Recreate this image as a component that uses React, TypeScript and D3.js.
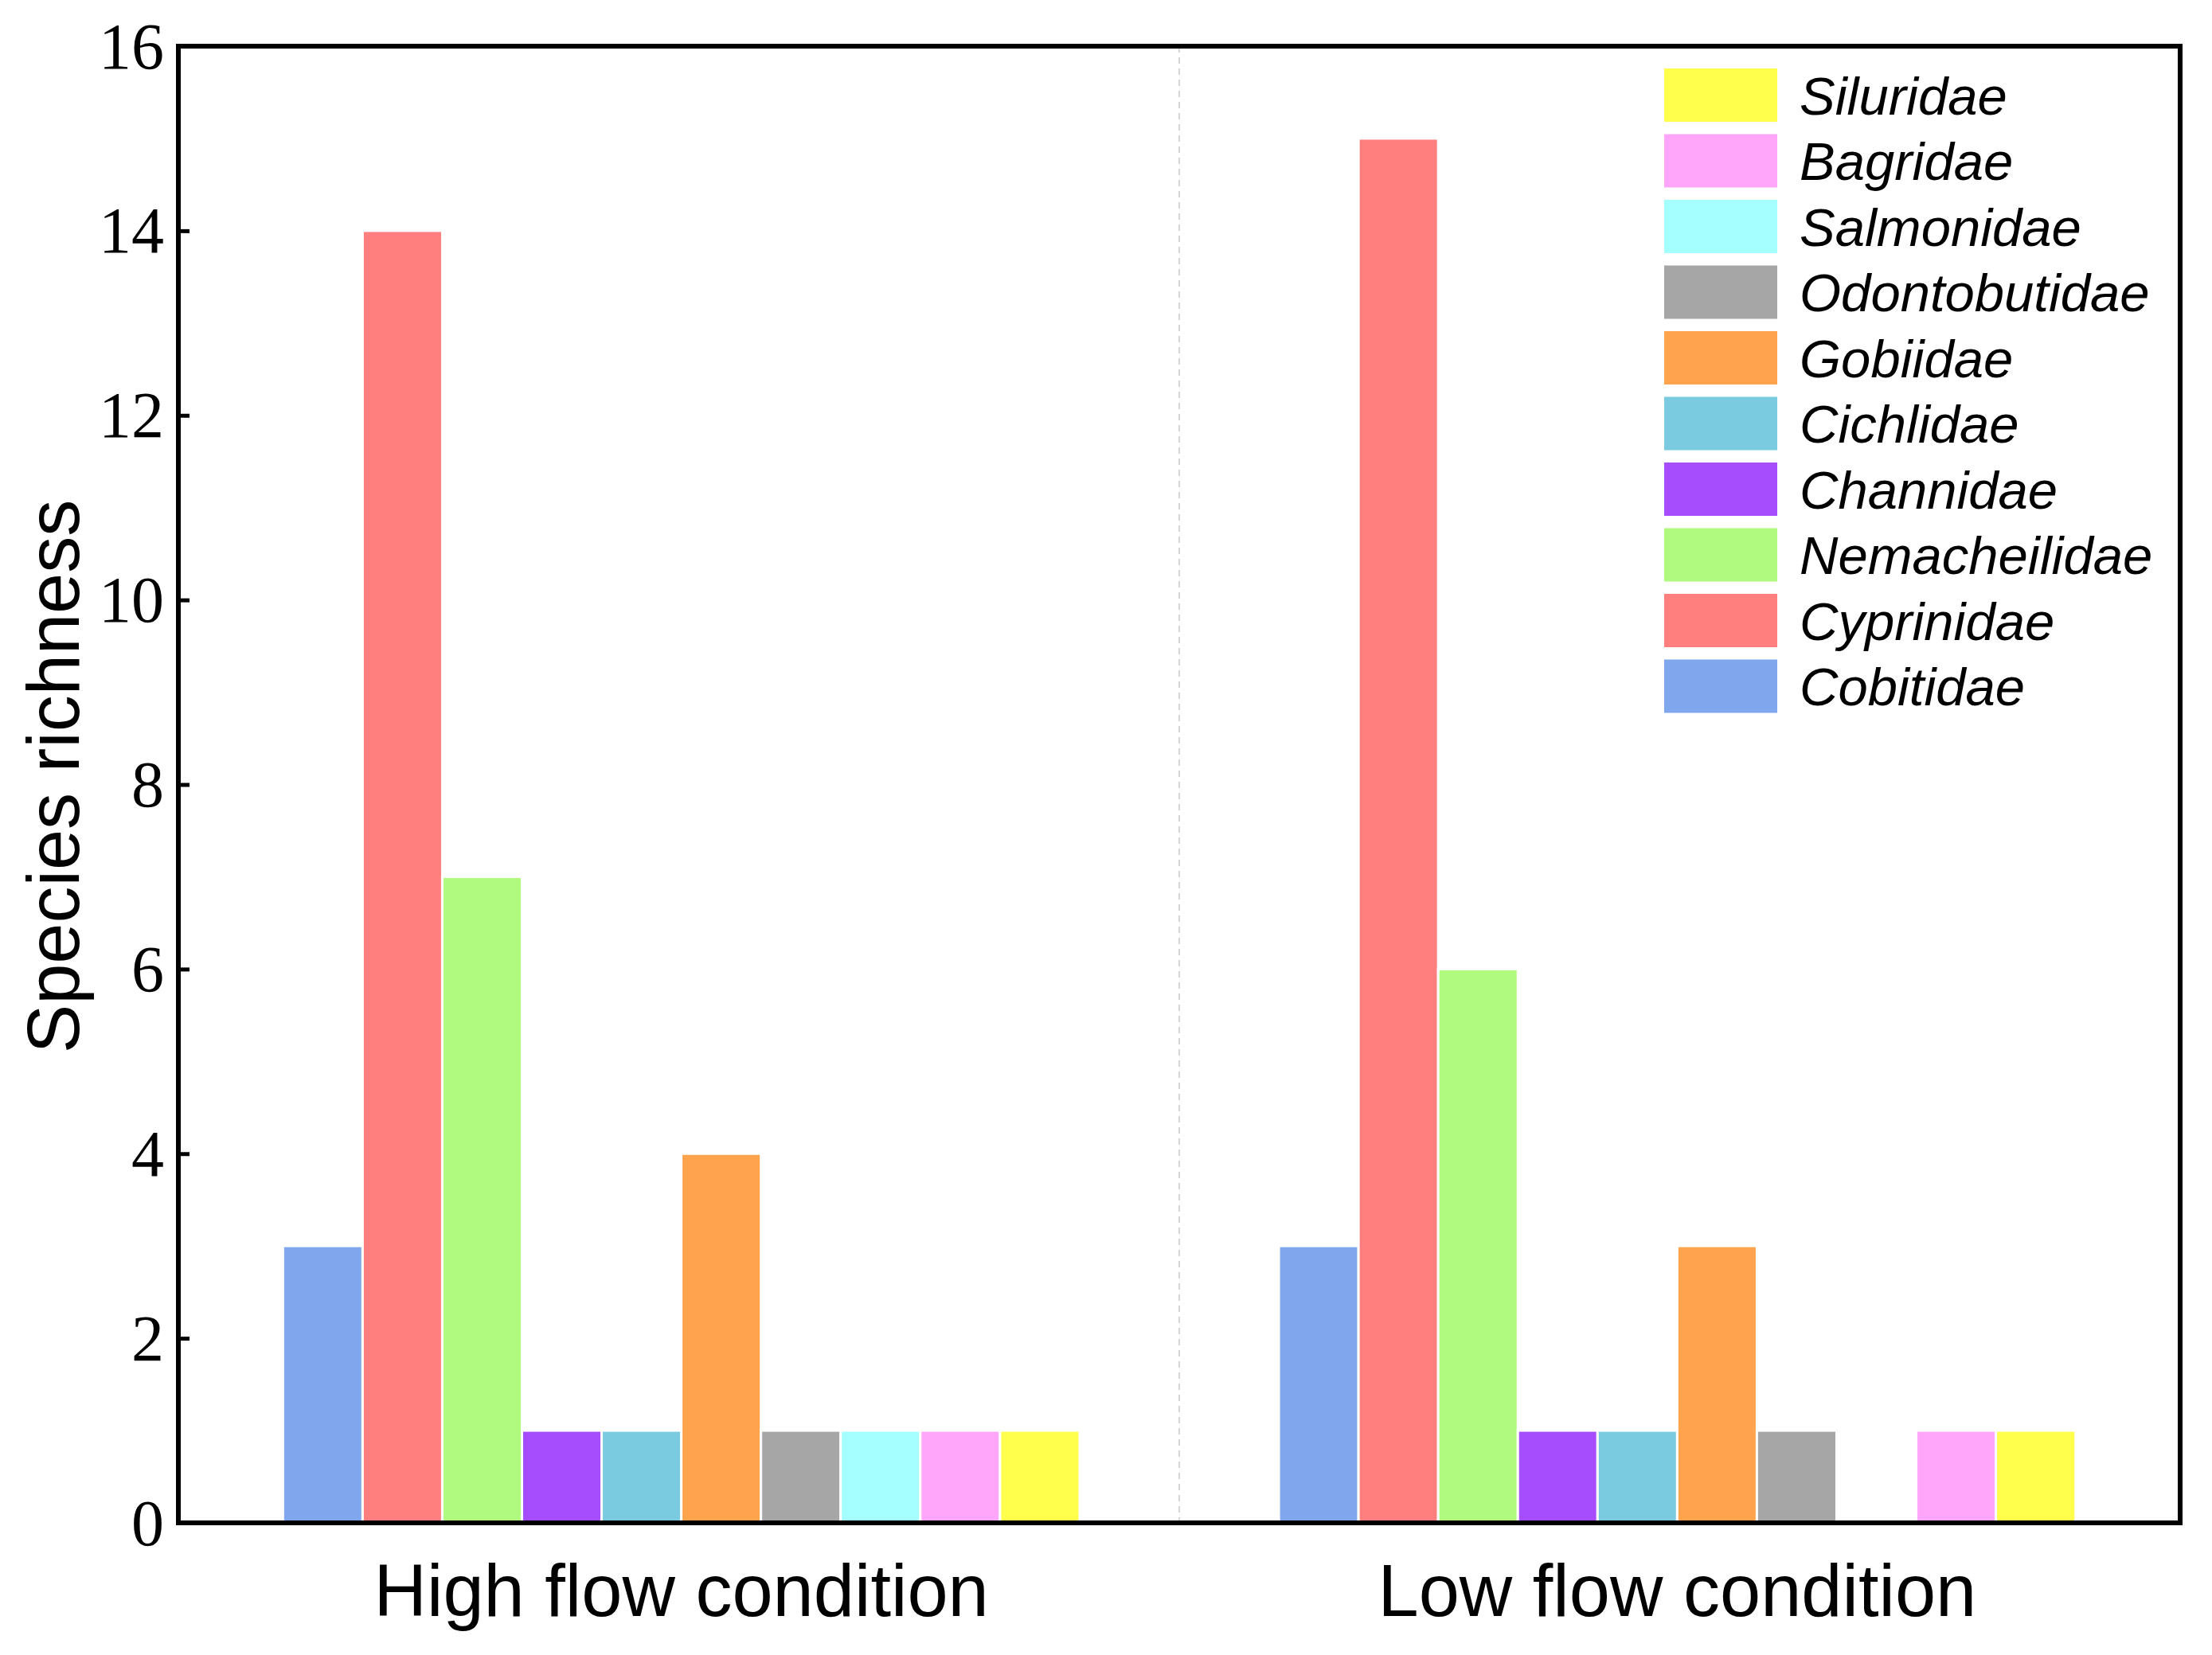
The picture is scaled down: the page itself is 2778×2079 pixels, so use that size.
import React, { useRef, useEffect } from 'react';
import * as d3 from 'd3';

const CONDITIONS = ['High flow condition', 'Low flow condition'];

// bar order inside each group (left to right)
const FAMILIES = [
  'Cobitidae',
  'Cyprinidae',
  'Nemacheilidae',
  'Channidae',
  'Cichlidae',
  'Gobiidae',
  'Odontobutidae',
  'Salmonidae',
  'Bagridae',
  'Siluridae',
];

const COLORS = [
  '#80a6ee',
  '#ff7f7f',
  '#b0fa7f',
  '#a64dfd',
  '#7acbdf',
  '#ffa44c',
  '#a6a6a6',
  '#a6ffff',
  '#ffa6fa',
  '#ffff4c',
];

const HIGH_FLOW = [3, 14, 7, 1, 1, 4, 1, 1, 1, 1];
const LOW_FLOW = [3, 15, 6, 1, 1, 3, 1, 0, 1, 1];

const Y_TICKS = [0, 2, 4, 6, 8, 10, 12, 14, 16];

const W = 2778;
const H = 2079;

const App: React.FC = () => {
  const svgRef = useRef<SVGSVGElement>(null);

  useEffect(() => {
    document.body.style.margin = '0';
    if (!svgRef.current) return;

    const left = 224, top = 58, right = 2738, bottom = 1913;

    const svg = d3.select(svgRef.current);
    svg.selectAll('*').remove();
    svg.attr('width', W).attr('height', H).attr('viewBox', `0 0 ${W} ${H}`);

    svg.append('rect').attr('width', W).attr('height', H).attr('fill', '#fff');

    const series = [HIGH_FLOW, LOW_FLOW];
    const data = CONDITIONS.flatMap((c, gi) =>
      FAMILIES.map((f, fi) => ({ cond: c, family: f, value: series[gi][fi], color: COLORS[fi] }))
    );

    const x0 = d3.scaleBand<string>().domain(CONDITIONS).range([left, right]).paddingInner(0.2).paddingOuter(0.105);
    const x1 = d3.scaleBand<string>().domain(FAMILIES).range([0, x0.bandwidth()]).padding(0);
    const y = d3.scaleLinear().domain([0, 16]).range([bottom, top]);

    // divider between the two groups
    const mid = (left + right) / 2;
    svg.append('line')
      .attr('x1', mid).attr('x2', mid)
      .attr('y1', top).attr('y2', bottom)
      .attr('stroke', '#c8c8c8')
      .attr('stroke-width', 1.5)
      .attr('stroke-dasharray', '8,6');

    // bars
    svg.append('g')
      .selectAll('rect')
      .data(data.filter(d => d.value > 0))
      .join('rect')
      .attr('x', d => x0(d.cond)! + x1(d.family)!)
      .attr('y', d => y(d.value))
      .attr('width', x1.bandwidth())
      .attr('height', d => y(0) - y(d.value))
      .attr('fill', d => d.color)
      .attr('stroke', '#fff')
      .attr('stroke-width', 3);

    // frame
    svg.append('rect')
      .attr('x', left).attr('y', top)
      .attr('width', right - left).attr('height', bottom - top)
      .attr('fill', 'none')
      .attr('stroke', '#000')
      .attr('stroke-width', 6);

    // y axis, inward ticks
    const yAxis = svg.append('g')
      .attr('transform', `translate(${left},0)`)
      .call(d3.axisRight(y).tickValues(Y_TICKS).tickSize(14).tickFormat(d3.format('d')));
    yAxis.select('.domain').remove();
    yAxis.selectAll('line').attr('stroke', '#000').attr('stroke-width', 5);
    yAxis.selectAll('text')
      .attr('x', -18)
      .attr('dy', '0.33em')
      .attr('text-anchor', 'end')
      .attr('fill', '#000')
      .attr('font-size', 82)
      .attr('font-family', '"Liberation Serif", "Times New Roman", serif');

    // x labels
    svg.append('g')
      .selectAll('text')
      .data(CONDITIONS)
      .join('text')
      .attr('x', d => x0(d)! + x0.bandwidth() / 2)
      .attr('y', 2030)
      .attr('text-anchor', 'middle')
      .attr('font-size', 92)
      .attr('font-family', '"Liberation Sans", Arial, sans-serif')
      .attr('fill', '#000')
      .text(d => d);

    // y title
    svg.append('text')
      .attr('transform', `translate(99,${(top + bottom) / 2 - 10}) rotate(-90)`)
      .attr('text-anchor', 'middle')
      .attr('font-size', 92)
      .attr('font-family', '"Liberation Sans", Arial, sans-serif')
      .attr('fill', '#000')
      .text('Species richness');

    // legend (reverse order)
    const legendItems = FAMILIES.map((f, i) => ({ f, c: COLORS[i] })).reverse();
    const lg = svg.append('g').attr('transform', 'translate(2090,86)');
    const row = lg.selectAll('g')
      .data(legendItems)
      .join('g')
      .attr('transform', (_, i) => `translate(0,${i * 82.5})`);
    row.append('rect')
      .attr('width', 142)
      .attr('height', 67)
      .attr('fill', d => d.c);
    row.append('text')
      .attr('x', 170)
      .attr('y', 33.5)
      .attr('dy', '0.36em')
      .attr('font-size', 67)
      .attr('font-style', 'italic')
      .attr('font-family', '"Liberation Sans", Arial, sans-serif')
      .attr('fill', '#000')
      .text(d => d.f);
  }, []);

  return <svg ref={svgRef} style={{ display: 'block' }} />;
};

export default App;
